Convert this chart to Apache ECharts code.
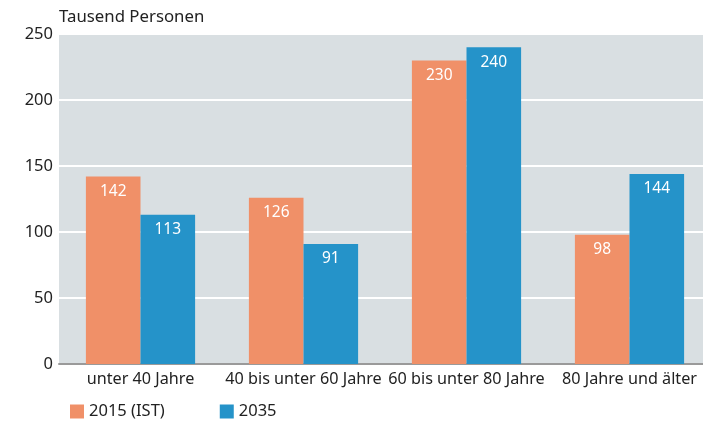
<!DOCTYPE html>
<html>
<head>
<meta charset="utf-8">
<script src="https://cdn.jsdelivr.net/npm/echarts@6/dist/echarts.min.js"></script>
<style>
  html, body { margin: 0; padding: 0; background: #fff; }
  #charts { width: 703px; height: 423px; }
</style>
</head>
<body>
<div id="charts"></div>
<script>
var categories = ['unter 40 Jahre', '40 bis unter 60 Jahre', '60 bis unter 80 Jahre', '80 Jahre und älter'];
var values2015 = [142, 126, 230, 98];
var values2035 = [113, 91, 240, 144];
var seriesNames = ['2015 (IST)', '2035'];

var font = '"Noto Sans", sans-serif';
var chartDom = document.getElementById('charts');
var myChart = echarts.init(chartDom);
var labelStyle = {
  show: true,
  position: 'insideTop',
  distance: 7,
  color: '#fff',
  fontSize: 15.5,
  fontFamily: font
};
var option = {
  animation: false,
  textStyle: { fontFamily: font },
  grid: {
    left: 59, width: 652, top: 34, bottom: 59,
    outerBoundsMode: 'none',
    containLabel: false,
    show: true, backgroundColor: '#d9dfe2', borderWidth: 0
  },
  legend: {
    left: 65, bottom: -2,
    itemWidth: 14, itemHeight: 14, itemGap: 55,
    icon: 'rect',
    textStyle: { fontSize: 16.5, color: '#222', fontFamily: font },
    data: seriesNames
  },
  xAxis: {
    type: 'category',
    data: categories,
    axisTick: { show: false },
    axisLine: { lineStyle: { color: '#9a9a9a', width: 2 } },
    axisLabel: { color: '#222', fontSize: 16.2, margin: 7, interval: 0, fontFamily: font }
  },
  yAxis: {
    type: 'value',
    min: 0, max: 250, interval: 50,
    name: 'Tausend Personen',
    nameLocation: 'end',
    nameGap: 8,
    nameTextStyle: { color: '#222', fontSize: 16.8, align: 'left', fontFamily: font },
    axisLine: { show: false },
    axisTick: { show: false },
    axisLabel: { color: '#222', fontSize: 16.5, margin: 6, fontFamily: font },
    splitLine: { lineStyle: { color: '#ffffff', width: 2 } }
  },
  series: [
    {
      name: seriesNames[0], type: 'bar', data: values2015,
      itemStyle: { color: '#f09068' },
      barGap: '0%', barCategoryGap: '33%',
      label: labelStyle
    },
    {
      name: seriesNames[1], type: 'bar', data: values2035,
      itemStyle: { color: '#2593c9' },
      label: labelStyle
    }
  ]
};
option && myChart.setOption(option);
</script>
</body>
</html>
